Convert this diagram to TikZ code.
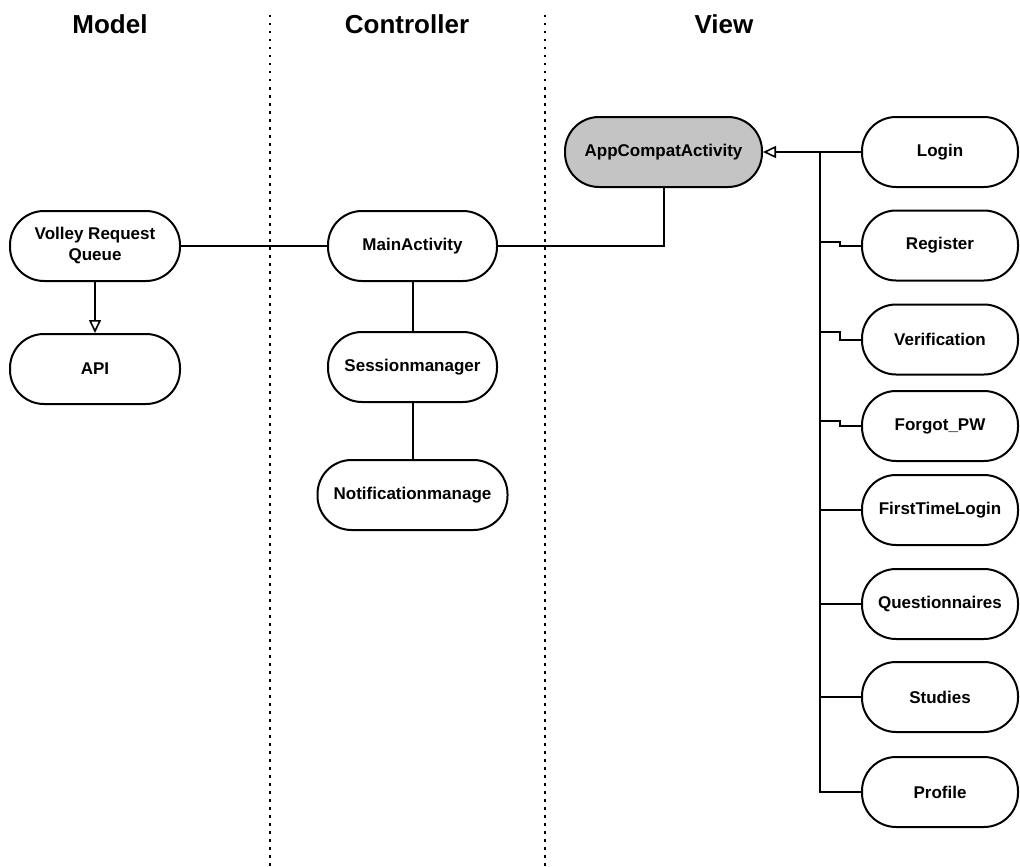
\documentclass[tikz,border=0pt]{standalone}
\usepackage{fontspec}
\setmainfont{Liberation Sans}
\usetikzlibrary{arrows.meta}
\definecolor{basegray}{RGB}{196,196,196}
\begin{document}
\begin{tikzpicture}[x=1pt,y=-1pt,
  pill/.style={draw=black, line width=2pt, fill=white, rectangle,
    rounded corners=34pt, minimum height=70pt, inner sep=0pt,
    font=\bfseries\fontsize{17}{21}\selectfont, align=center},
  header/.style={font=\bfseries\fontsize{26}{29}\selectfont},
  link/.style={draw=black, line width=2pt},
  inherit/.style={link, -{Triangle[open, length=13pt, width=12pt, line width=1.6pt]}},
  lane/.style={draw=black, line width=1.6pt, dash pattern=on 2.5pt off 5.5pt}
]
\useasboundingbox (0,0) rectangle (1020,867);

% column titles
\node[header] (hmodel) at (110,24) {Model};
\node[header] (hctrl) at (407,24) {Controller};
\node[header] (hview) at (724,24) {View};

% lane separators
\coordinate (laneAtop) at (270,15);
\coordinate (laneAbot) at (270,867);
\coordinate (laneBtop) at (545,15);
\coordinate (laneBbot) at (545,867);
\draw[lane] (laneAtop) -- (laneAbot);
\draw[lane] (laneBtop) -- (laneBbot);

% model
\node[pill, minimum width=170pt] (volley) at (95,246) {Volley Request\\Queue};
\node[pill, minimum width=170pt] (api) at (95,369) {API};

% controller
\node[pill, minimum width=169pt] (main) at (412.5,246) {MainActivity};
\node[pill, minimum width=169pt] (session) at (412.5,367) {Sessionmanager};
\node[pill, minimum width=190pt] (notif) at (412.5,495) {Notificationmanage};

% view
\node[pill, minimum width=197pt, fill=basegray] (app) at (663.5,152) {AppCompatActivity};
\node[pill, minimum width=156pt] (login) at (940,152) {Login};
\node[pill, minimum width=156pt] (register) at (940,245.5) {Register};
\node[pill, minimum width=156pt] (verif) at (940,339.5) {Verification};
\node[pill, minimum width=156pt] (forgot) at (940,426) {Forgot\_PW};
\node[pill, minimum width=156pt] (first) at (940,510) {FirstTimeLogin};
\node[pill, minimum width=156pt] (quest) at (940,604) {Questionnaires};
\node[pill, minimum width=156pt] (studies) at (940,697) {Studies};
\node[pill, minimum width=156pt] (profile) at (940,792) {Profile};

% connections
\draw[link] (volley) -- (main);
\draw[inherit] (volley) -- (api);
\draw[link] (main) -- (session);
\draw[link] (session) -- (notif);
\draw[link] (main.east) -| (app.south);

% inheritance bus of the view classes
\coordinate (bustop) at (820,152);
\coordinate (busbot) at (820,792);
\draw[inherit] (login.west) -- (app.east);
\draw[link] (bustop) -- (busbot) -- (profile.west);
\draw[link] (register.west) -- ++(-21,0) -- ++(0,-4) -- ++(-21,0);
\draw[link] (verif.west) -- ++(-21,0) -- ++(0,-8) -- ++(-21,0);
\draw[link] (forgot.west) -- ++(-21,0) -- ++(0,-5) -- ++(-21,0);
\draw[link] (first.west) -- (first.west -| bustop);
\draw[link] (quest.west) -- (quest.west -| bustop);
\draw[link] (studies.west) -- (studies.west -| bustop);
\end{tikzpicture}
\end{document}
